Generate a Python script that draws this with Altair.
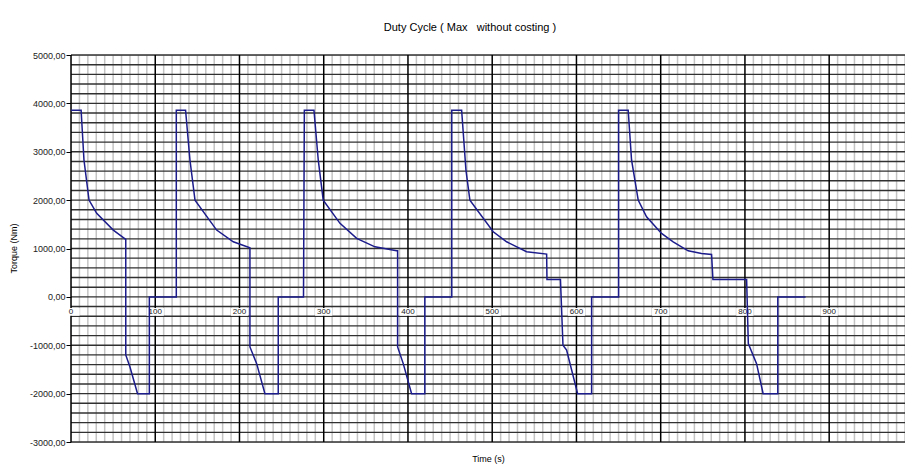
import altair as alt
import pandas as pd

# Torque trace of the duty cycle, point by point (time in s, torque in Nm)
time_s = [
    0, 12, 15.4, 21.4, 30.5, 50.2, 65, 65, 70, 79, 93, 93, 125,
    125, 136, 141.2, 147.2, 172.9, 192.6, 212.4, 212.4, 220.4, 230.2, 246, 246, 276,
    277, 288.4, 293.5, 299.4, 319.3, 339.1, 360.8, 386.5, 387.7, 387.7, 394.4, 404.3, 420, 420, 452,
    452, 463.7, 468.8, 473.5, 501.2, 517.1, 540.8, 564.6, 565, 581, 584, 588.3, 601.4, 618, 618, 650,
    650, 661.4, 665.4, 673.3, 683.2, 701, 714.8, 732.6, 748.5, 760.4, 762, 802, 804, 813.8, 821.6, 839, 839, 872,
]
torque_nm = [
    3860, 3860, 2830, 2000, 1727, 1381, 1190, -1200, -1450, -2000, -2000, 0, 0,
    3860, 3860, 2830, 2000, 1381, 1139, 1015, -1035, -1380, -2000, -2000, 0, 0,
    3860, 3860, 2830, 2000, 1520, 1209, 1035, 952, 952, -1035, -1380, -2000, -2000, 0, 0,
    3860, 3860, 2623, 2000, 1346, 1139, 932, 884, 360, 360, -1000, -1100, -2000, -2000, 0, 0,
    3860, 3860, 2830, 2000, 1656, 1312, 1139, 952, 898, 877, 360, 360, -965, -1380, -2000, -2000, 0, 0,
]

x_tick_labels = [0, 100, 200, 300, 400, 500, 600, 700, 800, 900]
y_tick_values = [-3000, -2000, -1000, 0, 1000, 2000, 3000, 4000, 5000]

FONT = "Liberation Sans"
NBSP = "\u00a0"

trace = pd.DataFrame({"t": time_s, "torque": torque_nm, "i": range(len(time_s))})
minor_x = pd.DataFrame({"t": [t for t in range(0, 1000, 10) if t % 100]})
major_x = pd.DataFrame({"t": list(range(0, 1000, 100))})
hlines = pd.DataFrame({"torque": list(range(-3000, 5001, 200))})
xlab = pd.DataFrame({"t": x_tick_labels, "torque": [0] * len(x_tick_labels),
                     "lab": [str(t) for t in x_tick_labels]})

x_scale = alt.Scale(domain=[0, 990], nice=False, zero=False)
y_scale = alt.Scale(domain=[-3000, 5000], nice=False)

x_axis = alt.Axis(title="Time (s)", labels=False, ticks=False, domain=False,
                  grid=False, titleFont=FONT, titleFontSize=9,
                  titleFontWeight="normal", titleColor="black", titlePadding=12)
y_axis = alt.Axis(title="Torque (Nm)", values=y_tick_values, grid=False, domain=False,
                  tickSize=5, tickColor="black", tickWidth=1, labelPadding=1,
                  labelFont=FONT, labelFontSize=9, labelColor="#222222",
                  labelExpr="(datum.value < 0 ? '-' : '') + replace(format(abs(datum.value), '.2f'), '.', ',')",
                  titleFont=FONT, titleFontSize=9, titleFontWeight="normal",
                  titleColor="black", titleX=-58, titleY=193, titleAngle=270,
                  titleAlign="center", titleBaseline="middle")

X = alt.X("t:Q", scale=x_scale, axis=x_axis, title="Time (s)")
Y = alt.Y("torque:Q", scale=y_scale, axis=y_axis, title="Torque (Nm)")

minor_grid = alt.Chart(minor_x).mark_rule(color="#c4c4c4", strokeWidth=1.5).encode(x=X)
h_grid = alt.Chart(hlines).mark_rule(color="#303030", strokeWidth=1.4).encode(y=Y)
major_grid = alt.Chart(major_x).mark_rule(color="#000000", strokeWidth=1.5).encode(x=X)

# White boxes behind the time labels sitting under the zero line
label_boxes = alt.Chart(xlab).mark_point(
    shape="M -1 -0.45 L 1 -0.45 L 1 0.45 L -1 0.45 Z",
    filled=True, color="white", opacity=1, size=300, yOffset=15, strokeWidth=0,
).encode(x=X, y=Y)
label_text = alt.Chart(xlab).mark_text(
    font=FONT, fontSize=8, color="#222222", dy=15, baseline="middle", align="center"
).encode(x=X, y=Y, text="lab:N")

line = alt.Chart(trace).mark_line(color="#1c1c8c", strokeWidth=1.5).encode(
    x=X, y=Y, order="i:Q"
)

chart = alt.layer(minor_grid, h_grid, major_grid, label_boxes, label_text, line).properties(
    width=834,
    height=387,
    title=alt.TitleParams(f"Duty Cycle ( Max{NBSP}{NBSP} without costing )", font=FONT,
                          fontSize=11, fontWeight="normal", color="black", anchor="middle",
                          frame="group", offset=18, dx=-18),
    padding={"left": 71, "top": 55, "right": 0, "bottom": 29},
    autosize=alt.AutoSizeParams(type="none"),
).configure_view(stroke=None).configure(background="white")

chart.save("out.html", embed_options={"renderer": "svg", "actions": False})
